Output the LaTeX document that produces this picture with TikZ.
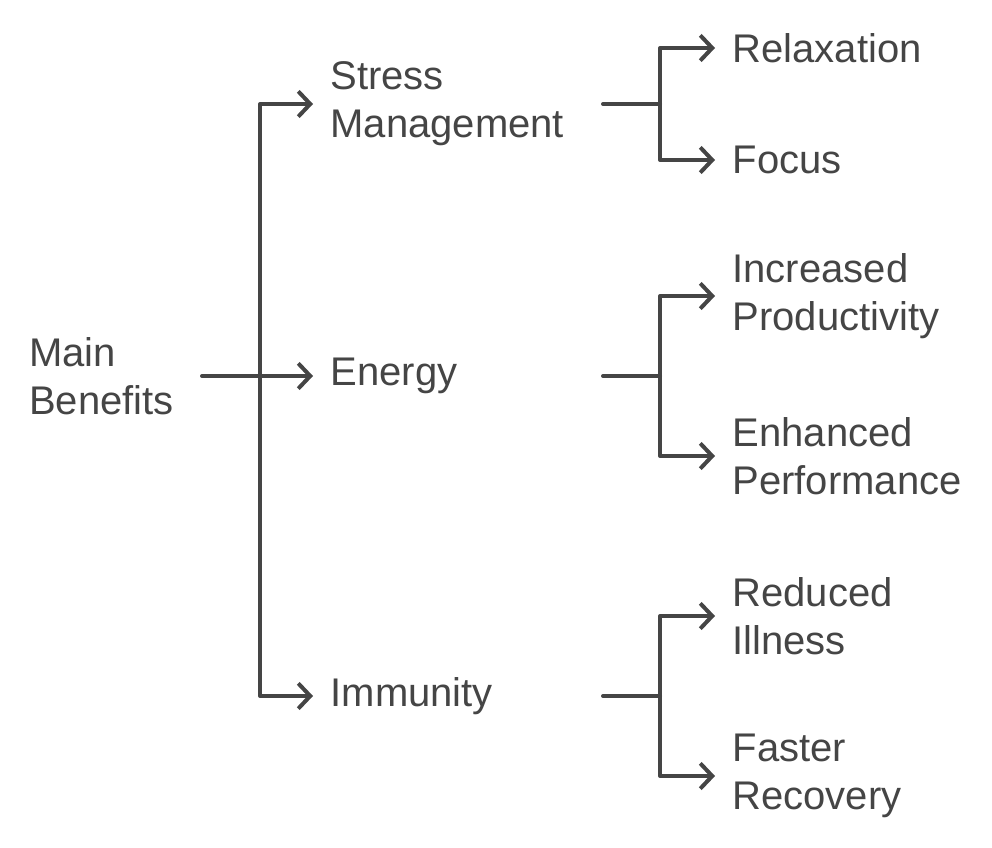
\documentclass[tikz,border=0pt]{standalone}
\usepackage{fontspec}
\setmainfont{Liberation Sans}
\usetikzlibrary{arrows.meta, positioning}
\definecolor{ink}{HTML}{454545}

\begin{document}
\begin{tikzpicture}[x=0.75pt, y=-0.75pt,
  lbl/.style={anchor=west, align=left, inner xsep=13pt, inner ysep=0pt, text=ink,
    font=\fontsize{30}{36}\selectfont},
  line/.style={draw=ink, line width=3pt, line join=round, line cap=round},
  link/.style={line, -{Straight Barb[length=9pt, width=19pt]}}]
\useasboundingbox (0,0) rectangle (992,848);
% root
\node[lbl, inner xsep=0pt] (main) at (29,376) {Main\\Benefits};
\coordinate (mainout) at (202,376);
\coordinate (trunk) at (260,376);
% second level
\node[lbl] (stress) at (313,104) {Stress\\Management};
\node[lbl] (energy) at (313,376) {Energy};
\node[lbl] (immun) at (313,696) {Immunity};
% third level
\node[lbl] (relax) at (715,48) {Relaxation};
\node[lbl] (focus) at (715,160) {Focus};
\node[lbl] (prod) at (715,296) {Increased\\Productivity};
\node[lbl] (perf) at (715,456) {Enhanced\\Performance};
\node[lbl] (ill) at (715,616) {Reduced\\Illness};
\node[lbl] (recov) at (715,776) {Faster\\Recovery};
% branch points
\coordinate (sout) at (603,104);
\coordinate (sfork) at (660,104);
\coordinate (eout) at (603,376);
\coordinate (efork) at (660,376);
\coordinate (iout) at (603,696);
\coordinate (ifork) at (660,696);

\draw[link] (mainout) -- (energy.west);
\draw[link] (trunk) |- (stress.west);
\draw[link] (trunk) |- (immun.west);
\draw[line] (sout) -- (sfork);
\draw[link] (sfork) |- (relax.west);
\draw[link] (sfork) |- (focus.west);
\draw[line] (eout) -- (efork);
\draw[link] (efork) |- (prod.west);
\draw[link] (efork) |- (perf.west);
\draw[line] (iout) -- (ifork);
\draw[link] (ifork) |- (ill.west);
\draw[link] (ifork) |- (recov.west);
\end{tikzpicture}
\end{document}
